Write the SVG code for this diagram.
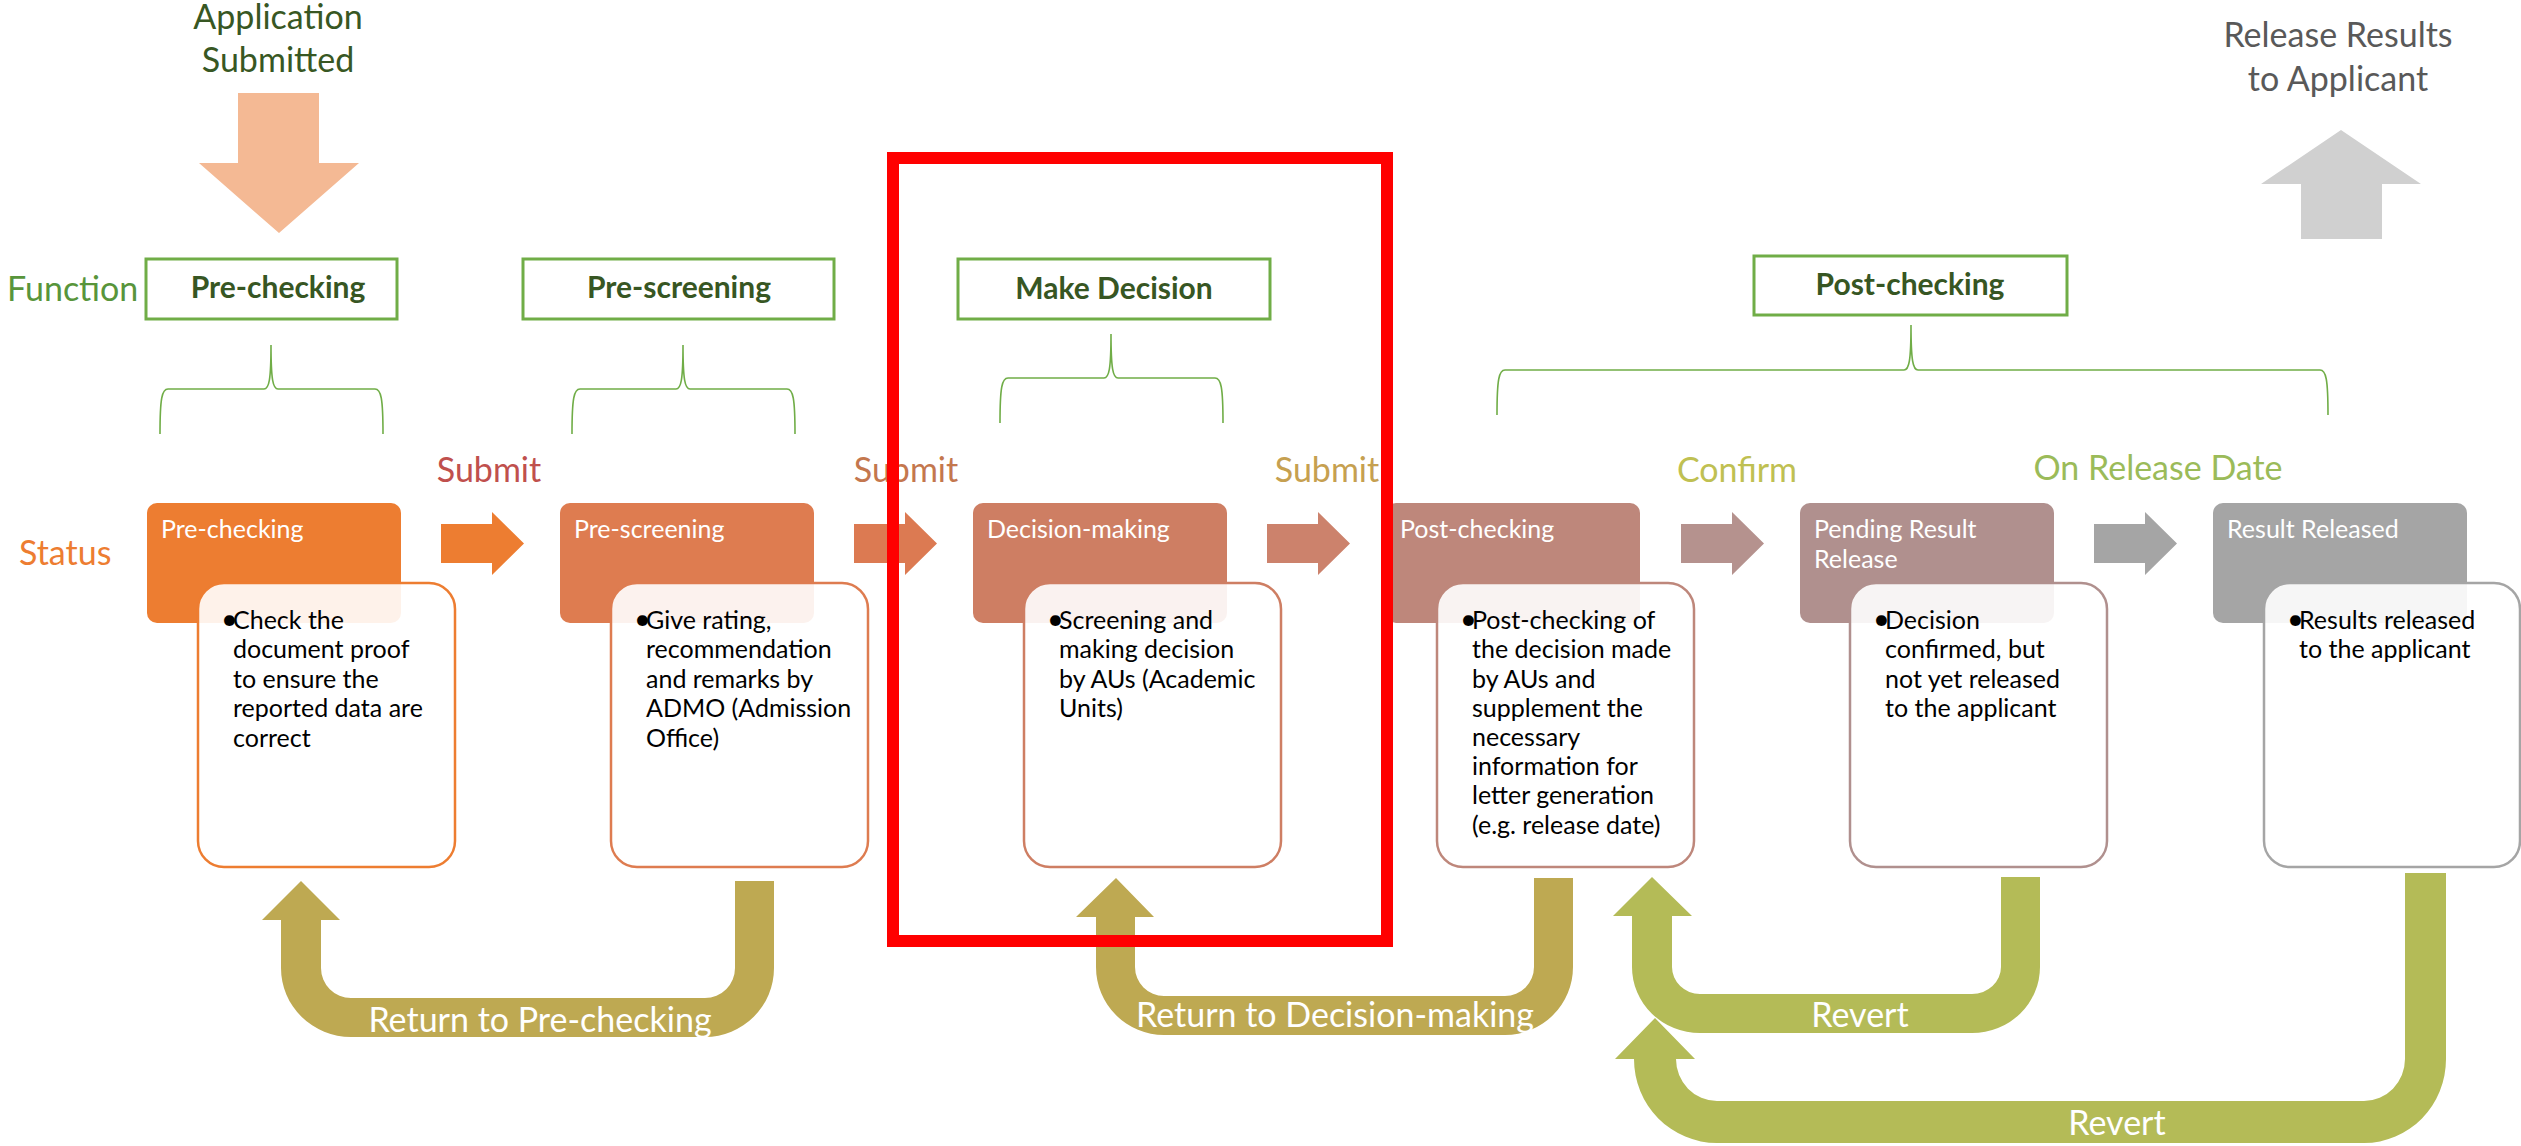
<svg xmlns="http://www.w3.org/2000/svg" width="2521" height="1146" viewBox="0 0 2521 1146">
<style>
text{font-family:Lato,"Liberation Sans",sans-serif}
.big{font-size:34px}
.mid{text-anchor:middle}
.fbox{fill:#fff;stroke:#70AD47;stroke-width:3}
.ftxt{font-size:30px;font-weight:bold;fill:#375623;text-anchor:middle}
.brace{fill:none;stroke:#70AD47;stroke-width:1.6}
.slabel{font-size:25px;fill:#fff}
.btxt{font-size:25px;fill:#000}
.bul{font-size:29px}
.detail{fill:#fff;fill-opacity:0.9;stroke-width:2.5}
.ulabel{font-size:34px;fill:#fff;text-anchor:middle}
.ret{fill:#BEA952}
.rev{fill:#B4BB57}
</style>

<g id="application-submitted">
<text class="big mid" x="278" y="29" fill="#385723">Application</text>
<text class="big mid" x="278" y="72" fill="#385723">Submitted</text>
<path d="M238 93 H319 V163 H359 L279 233 L199 163 H238 Z" fill="#F4B994"/>
</g>

<g id="release-results">
<text class="big mid" x="2338" y="47" fill="#595959">Release Results</text>
<text class="big mid" x="2338" y="91" fill="#595959">to Applicant</text>
<path d="M2341 130 L2421 184 H2382 V239 H2301 V184 H2261 Z" fill="#D0D0D0"/>
</g>

<g id="row-labels">
<text class="big" x="7" y="301" fill="#58953B">Function</text>
<text class="big" x="19" y="565" fill="#ED7D31">Status</text>
</g>

<g id="function-pre-checking">
<rect class="fbox" x="146" y="259" width="251" height="60"/>
<text class="ftxt" x="278" y="298">Pre-checking</text>
</g>
<g id="function-pre-screening">
<rect class="fbox" x="523" y="259" width="311" height="60"/>
<text class="ftxt" x="679" y="298">Pre-screening</text>
</g>
<g id="function-make-decision">
<rect class="fbox" x="958" y="259" width="312" height="60"/>
<text class="ftxt" x="1114" y="299">Make Decision</text>
</g>
<g id="function-post-checking">
<rect class="fbox" x="1754" y="256" width="313" height="59"/>
<text class="ftxt" x="1910" y="295">Post-checking</text>
</g>

<g id="status-pre-checking">
<rect x="147" y="503" width="254" height="120" rx="10" fill="#ED7D31"/>
<text class="slabel" x="161" y="538">Pre-checking</text>
<rect class="detail" x="198" y="583" width="257" height="284" rx="26" stroke="#ED7D31"/>
<text class="btxt" x="221" y="629"><tspan class="bul">•</tspan><tspan x="233">Check the</tspan></text>
<text class="btxt" x="233" y="658">document proof</text>
<text class="btxt" x="233" y="688">to ensure the</text>
<text class="btxt" x="233" y="717">reported data are</text>
<text class="btxt" x="233" y="747">correct</text>
</g>

<g id="status-pre-screening">
<rect x="560" y="503" width="254" height="120" rx="10" fill="#DE7C50"/>
<text class="slabel" x="574" y="538">Pre-screening</text>
<rect class="detail" x="611" y="583" width="257" height="284" rx="26" stroke="#DE7C50"/>
<text class="btxt" x="634" y="629"><tspan class="bul">•</tspan><tspan x="646">Give rating,</tspan></text>
<text class="btxt" x="646" y="658">recommendation</text>
<text class="btxt" x="646" y="688">and remarks by</text>
<text class="btxt" x="646" y="717">ADMO (Admission</text>
<text class="btxt" x="646" y="747">Office)</text>
</g>

<g id="status-decision-making">
<rect x="973" y="503" width="254" height="120" rx="10" fill="#CE7E63"/>
<text class="slabel" x="987" y="538">Decision-making</text>
<rect class="detail" x="1024" y="583" width="257" height="284" rx="26" stroke="#CE7E63"/>
<text class="btxt" x="1047" y="629"><tspan class="bul">•</tspan><tspan x="1059">Screening and</tspan></text>
<text class="btxt" x="1059" y="658">making decision</text>
<text class="btxt" x="1059" y="688">by AUs (Academic</text>
<text class="btxt" x="1059" y="717">Units)</text>
</g>

<g id="status-post-checking">
<rect x="1386" y="503" width="254" height="120" rx="10" fill="#BE877B"/>
<text class="slabel" x="1400" y="538">Post-checking</text>
<rect class="detail" x="1437" y="583" width="257" height="284" rx="26" stroke="#BE877B"/>
<text class="btxt" x="1460" y="629"><tspan class="bul">•</tspan><tspan x="1472">Post-checking of</tspan></text>
<text class="btxt" x="1472" y="658">the decision made</text>
<text class="btxt" x="1472" y="688">by AUs and</text>
<text class="btxt" x="1472" y="717">supplement the</text>
<text class="btxt" x="1472" y="746">necessary</text>
<text class="btxt" x="1472" y="775">information for</text>
<text class="btxt" x="1472" y="804">letter generation</text>
<text class="btxt" x="1472" y="834">(e.g. release date)</text>
</g>

<g id="status-pending-result-release">
<rect x="1800" y="503" width="254" height="120" rx="10" fill="#B0908E"/>
<text class="slabel" x="1814" y="538">Pending Result</text>
<text class="slabel" x="1814" y="568">Release</text>
<rect class="detail" x="1850" y="583" width="257" height="284" rx="26" stroke="#B0908E"/>
<text class="btxt" x="1873" y="629"><tspan class="bul">•</tspan><tspan x="1885">Decision</tspan></text>
<text class="btxt" x="1885" y="658">confirmed, but</text>
<text class="btxt" x="1885" y="688">not yet released</text>
<text class="btxt" x="1885" y="717">to the applicant</text>
</g>

<g id="status-result-released">
<rect x="2213" y="503" width="254" height="120" rx="10" fill="#A5A5A5"/>
<text class="slabel" x="2227" y="538">Result Released</text>
<rect class="detail" x="2264" y="583" width="256" height="284" rx="26" stroke="#A5A5A5"/>
<text class="btxt" x="2287" y="629"><tspan class="bul">•</tspan><tspan x="2299">Results released</tspan></text>
<text class="btxt" x="2299" y="658">to the applicant</text>
</g>

<g id="connectors">
<path class="brace" d="M160 434 C160 398 162 389 168 389 H264 C269 389 271 380 271 345 C271 380 273 389 278 389 H375 C381 389 383 398 383 434"/>
<path class="brace" d="M572 434 C572 398 574 389 580 389 H676 C681 389 683 380 683 345 C683 380 685 389 690 389 H787 C793 389 795 398 795 434"/>
<path class="brace" d="M1000 423 C1000 387 1002 378 1008 378 H1104 C1109 378 1111 369 1111 334 C1111 369 1113 378 1118 378 H1215 C1221 378 1223 387 1223 423"/>
<path class="brace" d="M1497 415 C1497 379 1499 370 1505 370 H1904 C1909 370 1911 361 1911 325 C1911 361 1913 370 1918 370 H2320 C2326 370 2328 379 2328 415"/>

<path d="M441 524 H492 V512 L524 543.5 L492 575 V563 H441 Z" fill="#ED7D31"/>
<path d="M854 524 H905 V512 L937 543.5 L905 575 V563 H854 Z" fill="#DC7A52"/>
<path d="M1267 524 H1318 V512 L1350 543.5 L1318 575 V563 H1267 Z" fill="#CC826C"/>
<path d="M1681 524 H1732 V512 L1764 543.5 L1732 575 V563 H1681 Z" fill="#B5928E"/>
<path d="M2094 524 H2145 V512 L2177 543.5 L2145 575 V563 H2094 Z" fill="#A5A5A5"/>

<text class="big mid" x="489" y="482" fill="#C0504D">Submit</text>
<text class="big mid" x="906" y="482" fill="#C4774E">Submit</text>
<text class="big mid" x="1327" y="482" fill="#C6A050">Submit</text>
<text class="big mid" x="1737" y="482" fill="#BFC052">Confirm</text>
<text class="big mid" x="2158" y="480" fill="#9BBB59">On Release Date</text>

<path class="ret" d="M301 881 L340 920 L321 920 L321 968 A30 30 0 0 0 351 998 L705 998 A30 30 0 0 0 735 968 L735 881 L774 881 L774 968 A69 69 0 0 1 705 1037 L351 1037 A70 69 0 0 1 281 968 L281 920 L262 920 Z"/>
<path class="ret" d="M1116 878 L1154 917 L1135 917 L1135 967 A29 29 0 0 0 1164 996 L1505 996 A29 29 0 0 0 1534 967 L1534 878 L1573 878 L1573 967 A68 68 0 0 1 1505 1035 L1164 1035 A68 68 0 0 1 1096 967 L1096 917 L1076 917 Z"/>
<path class="rev" d="M1652 877 L1692 916 L1672 916 L1672 967 A28 27 0 0 0 1700 994 L1972 994 A29 27 0 0 0 2001 967 L2001 877 L2040 877 L2040 967 A68 66 0 0 1 1972 1033 L1700 1033 A68 66 0 0 1 1632 967 L1632 916 L1613 916 Z"/>
<path class="rev" d="M1655 1018 L1695 1059 L1676 1059 A41 42 0 0 0 1717 1101 L2364 1101 A41 42 0 0 0 2405 1059 L2405 873 L2446 873 L2446 1059 A82 84 0 0 1 2364 1143 L1717 1143 A83 84 0 0 1 1634 1059 L1615 1059 Z"/>

<text class="ulabel" x="540" y="1032">Return to Pre-checking</text>
<text class="ulabel" x="1335" y="1027">Return to Decision-making</text>
<text class="ulabel" x="1860" y="1027">Revert</text>
<text class="ulabel" x="2117" y="1135">Revert</text>
</g>

<g id="highlight">
<rect x="893" y="158" width="494" height="783" fill="none" stroke="#FF0000" stroke-width="12"/>
</g>
</svg>
